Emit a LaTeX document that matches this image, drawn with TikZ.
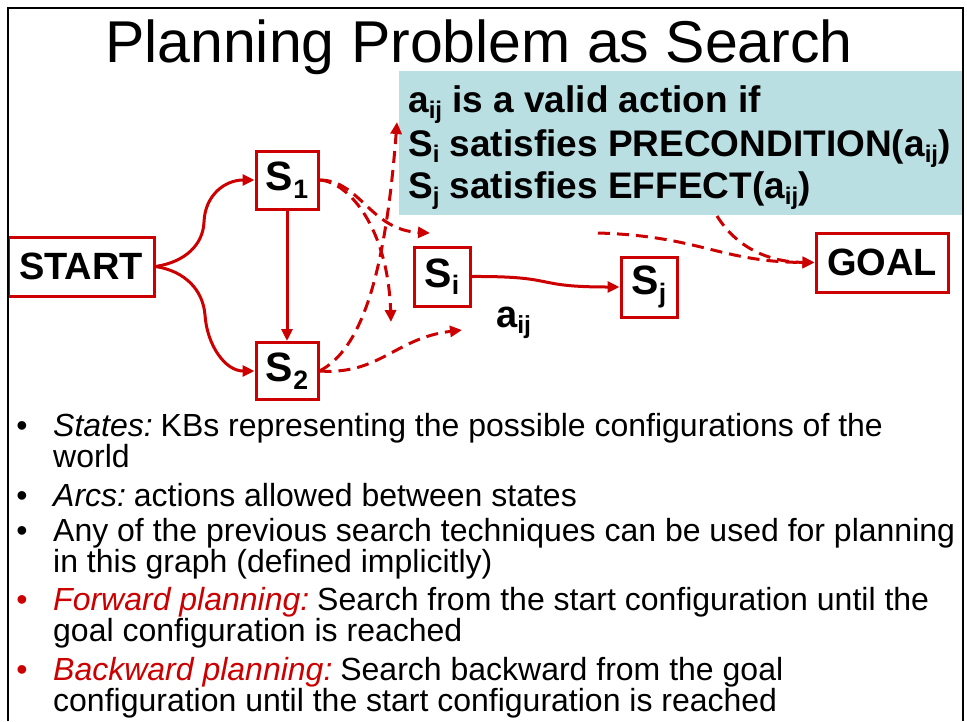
\documentclass[tikz,border=0pt]{standalone}
\usepackage{fontspec}
\setmainfont{Liberation Sans}
\usetikzlibrary{arrows.meta}
\definecolor{myred}{RGB}{204,0,0}
\definecolor{boxblue}{RGB}{185,223,227}
\newcommand\sbs[1]{\raisebox{-0.18em}{\scalebox{0.65}{#1}}}
\newcommand\fs[1]{\fontsize{#1}{#1}\selectfont}
\newcommand\tsp{\hspace{-4pt} }
\begin{document}
\begin{tikzpicture}[x=1pt,y=-1pt,
  state/.style={draw=myred, line width=3pt, fill=white, inner sep=0pt, font=\bfseries\fs{38}},
  sstate/.style={state, font=\bfseries\fs{41}},
  conn/.style={myred, line width=3pt, -{Triangle[length=12pt,width=11pt]}},
  dconn/.style={conn, dash pattern=on 12pt off 7pt},
  bul/.style={anchor=base west, inner sep=0pt, font=\fs{32}},
  dot/.style={anchor=base, inner sep=0pt, font=\fs{32}},
  boxtxt/.style={anchor=base west, inner sep=0pt, font=\bfseries\fs{37}}]
\useasboundingbox (0,0) rectangle (967,721);
\fill[white] (0,0) rectangle (967,721);

% title
\node[anchor=base, inner sep=0pt, font=\fs{59}] (title) at (479,62) {Planning Problem as Search};

% blue box
\fill[boxblue] (399,71) rectangle (962,215);
\node[boxtxt] (l1) at (408,112) {a\sbs{ij} is a valid action if};
\node[boxtxt] (l2) at (408,156) {S\sbs{i} satisfies PRECONDITION(a\sbs{ij})};
\node[boxtxt] (l3) at (408,198) {S\sbs{j} satisfies EFFECT(a\sbs{ij})};

% nodes
\node[state, minimum width=146pt, minimum height=59pt] (start) at (81,266.5) {START};
\node[sstate, minimum width=62pt, minimum height=58pt] (s1) at (287,180) {S\sbs{1}};
\node[sstate, minimum width=62pt, minimum height=57pt] (s2) at (287,371) {S\sbs{2}};
\node[sstate, minimum width=56pt, minimum height=59pt] (si) at (442,276.5) {S\sbs{i}};
\node[sstate, minimum width=56pt, minimum height=60pt] (sj) at (649,287) {S\sbs{j}};
\node[state, minimum width=132pt, minimum height=59pt] (goal) at (882,262.5) {GOAL};
\node[anchor=base west, inner sep=0pt, font=\bfseries\fs{38}] (aij) at (496,327) {a\sbs{ij}};

% free ends
\coordinate (d1) at (391,322);
\coordinate (d2) at (430,233);
\coordinate (d3) at (397,122);
\coordinate (d4) at (462,330);
\coordinate (g1) at (598,233);
\coordinate (g2) at (717,216);

% solid connectors
\draw[conn] (start.east) .. controls (185,262) and (203,245) .. (204,222)
   .. controls (205,195) and (225,180) .. (s1.west);
\draw[conn] (start.east) .. controls (185,271) and (203,290) .. (205,315)
   .. controls (207,345) and (225,371) .. (s2.west);
\draw[conn] (s1.south) -- (s2.north);
\draw[conn] (si.east) .. controls (560,276) and (530,287) .. (sj.west);

% dashed connectors
\draw[dconn] (s1.east) .. controls (350,182) and (388,230) .. (d1);
\draw[dconn] (s1.east) .. controls (360,180) and (370,230) .. (d2);
\draw[dconn] (s2.east) .. controls (360,350) and (385,280) .. (d3);
\draw[dconn] (s2.east) .. controls (380,375) and (395,338) .. (d4);
\draw[dconn] (g1) .. controls (700,236) and (720,262) .. (goal.west);
\draw[dconn] (g2) .. controls (735,245) and (765,262) .. (goal.west);

% bullets
\node[dot] (b1) at (22,436) {•};
\node[bul] (t1a) at (53,436) {{\itshape States:}\tsp KBs representing the possible configurations of the};
\node[bul] (t1b) at (53,467) {world};
\node[dot] (b2) at (22,506) {•};
\node[bul] (t2a) at (53,506) {{\itshape Arcs:}\tsp actions allowed between states};
\node[dot] (b3) at (22,541) {•};
\node[bul] (t3a) at (53,541) {Any of the previous search techniques can be used for planning};
\node[bul] (t3b) at (53,572) {in this graph (defined implicitly)};
\node[dot, text=myred] (b4) at (22,610) {•};
\node[bul] (t4a) at (53,610) {{\color{myred}\itshape Forward planning:}\tsp Search from the start configuration until the};
\node[bul] (t4b) at (53,641) {goal configuration is reached};
\node[dot, text=myred] (b5) at (22,680) {•};
\node[bul] (t5a) at (53,680) {{\color{myred}\itshape Backward planning:}\tsp Search backward from the goal};
\node[bul] (t5b) at (53,711) {configuration until the start configuration is reached};

% frame
\draw[black, line width=2.5pt] (8,721) -- (8,8) -- (963,8) -- (963,721);
\end{tikzpicture}
\end{document}
